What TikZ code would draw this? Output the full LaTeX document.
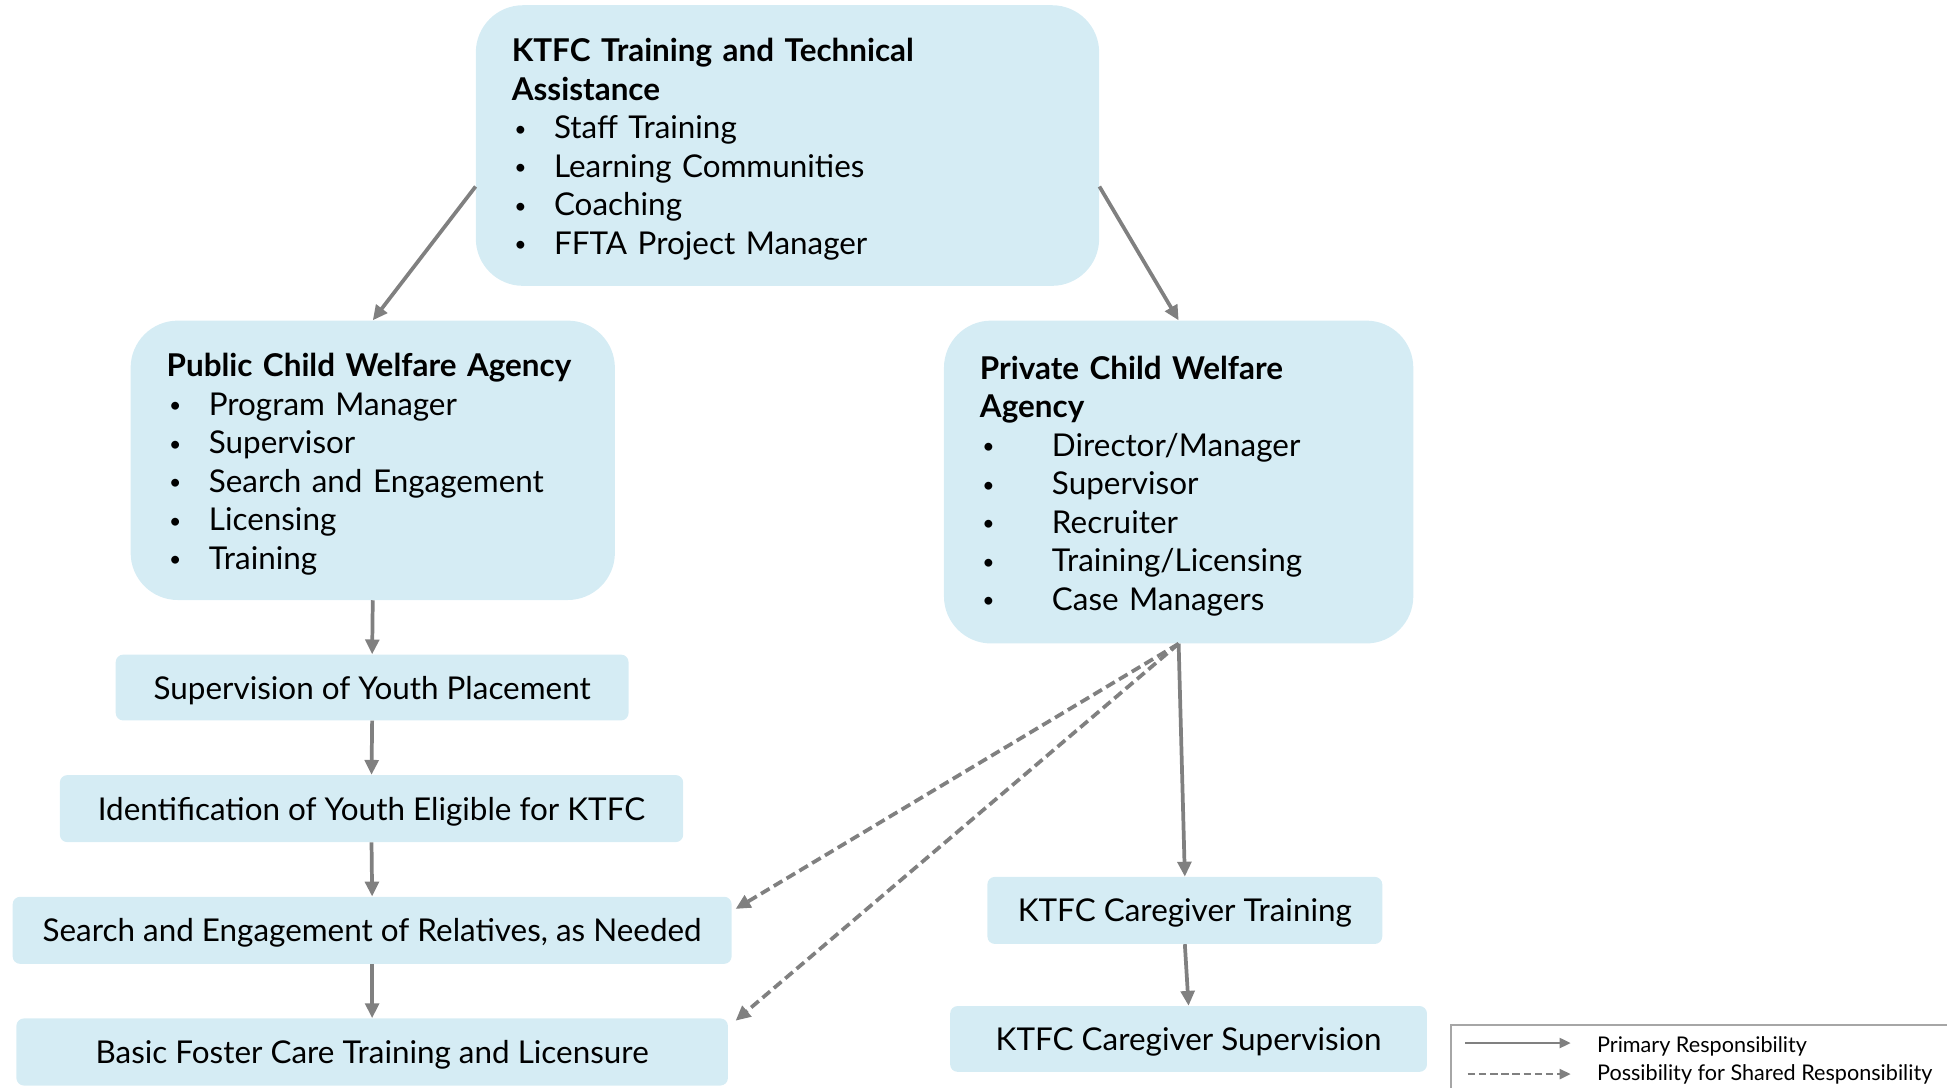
\documentclass[tikz,border=0pt]{standalone}
\usepackage{fontspec}
\setmainfont{Lato}
\usetikzlibrary{arrows.meta}
\definecolor{boxblue}{RGB}{213,236,244}
\definecolor{arrowgray}{RGB}{128,128,128}
\newcommand{\bul}[2][34pt]{\makebox[#1][l]{\hspace{2pt}\raisebox{2pt}{\fontsize{17}{17}\selectfont •}}#2}
\begin{document}
\begin{tikzpicture}[x=1pt,y=-1pt,
        bigbox/.style={fill=boxblue,rounded corners=38pt,anchor=north west,inner xsep=29pt,inner ysep=0pt,text height=25pt,align=left,font=\fontsize{25.3}{31}\selectfont},
        smallbox/.style={fill=boxblue,rounded corners=6pt,anchor=north west,inner sep=0pt,text depth=0pt,font=\fontsize{25.3}{31}\selectfont},
        primary/.style={draw=arrowgray,line width=3pt,-{Triangle[length=12pt,width=11pt]}},
        shared/.style={primary,dash pattern=on 8pt off 4pt}]
        \useasboundingbox (0,0) rectangle (1568,876);
        \node[bigbox,text width=444pt,minimum height=226pt] (tta) at (383,4) {\textbf{KTFC Training and Technical}\\\textbf{Assistance}\\\bul{Staff Training}\\\bul{Learning Communities}\\\bul{Coaching}\\\bul{FFTA Project Manager}};
        \node[bigbox,text width=332pt,minimum height=225pt] (pub) at (105,258) {\textbf{Public Child Welfare Agency}\\\bul{Program Manager}\\\bul{Supervisor}\\\bul{Search and Engagement}\\\bul{Licensing}\\\bul{Training}};
        \node[bigbox,text width=320pt,minimum height=260pt] (priv) at (760,258) {\textbf{Private Child Welfare}\\\textbf{Agency}\\\bul[58pt]{Director/Manager}\\\bul[58pt]{Supervisor}\\\bul[58pt]{Recruiter}\\\bul[58pt]{Training/Licensing}\\\bul[58pt]{Case Managers}};
        \node[smallbox,minimum width=413pt,minimum height=53pt] (sup) at (93,527) {Supervision of Youth Placement};
        \node[smallbox,minimum width=502pt,minimum height=54pt] (ident) at (48,624) {Identification of Youth Eligible for KTFC};
        \node[smallbox,minimum width=579pt,minimum height=54pt] (search) at (10,722) {Search and Engagement of Relatives, as Needed};
        \node[smallbox,minimum width=573pt,minimum height=54pt] (basic) at (13,820) {Basic Foster Care Training and Licensure};
        \node[smallbox,minimum width=318pt,minimum height=54pt] (cgt) at (795,706) {KTFC Caregiver Training};
        \node[smallbox,minimum width=384pt,minimum height=53pt] (cgs) at (765,810) {KTFC Caregiver Supervision};
        \draw[primary] ([yshift=-33pt]tta.west) -- (pub.north);
        \draw[primary] ([yshift=-33pt]tta.east) -- (priv.north);
        \draw[primary] (pub.south) -- (sup.north);
        \draw[primary] (sup.south) -- (ident.north);
        \draw[primary] (ident.south) -- (search.north);
        \draw[primary] (search.south) -- (basic.north);
        \draw[primary] (priv.south) -- (cgt.north);
        \draw[primary] (cgt.south) -- (cgs.north);
        \draw[shared] (priv.south) -- ([shift={(3pt,-10pt)}]search.north east);
        \draw[shared] (priv.south) -- ([shift={(6pt,-2pt)}]basic.north east);
        % legend
        \node[draw=arrowgray!70,line width=1pt,anchor=north west,minimum width=450pt,minimum height=80pt] (legend) at (1168,825) {};
        \node[anchor=west,inner sep=0pt,font=\fontsize{17.4}{20}\selectfont] (legPrim) at (1286,843) {Primary Responsibility};
        \node[anchor=west,inner sep=0pt,font=\fontsize{17.4}{20}\selectfont] (legShared) at (1286,865) {Possibility for Shared Responsibility};
        \coordinate (p0) at (1180,840);
        \coordinate (p1) at (1265,840);
        \coordinate (s0) at (1182,865);
        \coordinate (s1) at (1265,865);
        \draw[primary,line width=2pt,-{Triangle[length=9pt,width=8pt]}] (p0) -- (p1);
        \draw[shared,line width=2pt,dash pattern=on 6pt off 3pt,-{Triangle[length=9pt,width=8pt]}] (s0) -- (s1);
\end{tikzpicture}
\end{document}
